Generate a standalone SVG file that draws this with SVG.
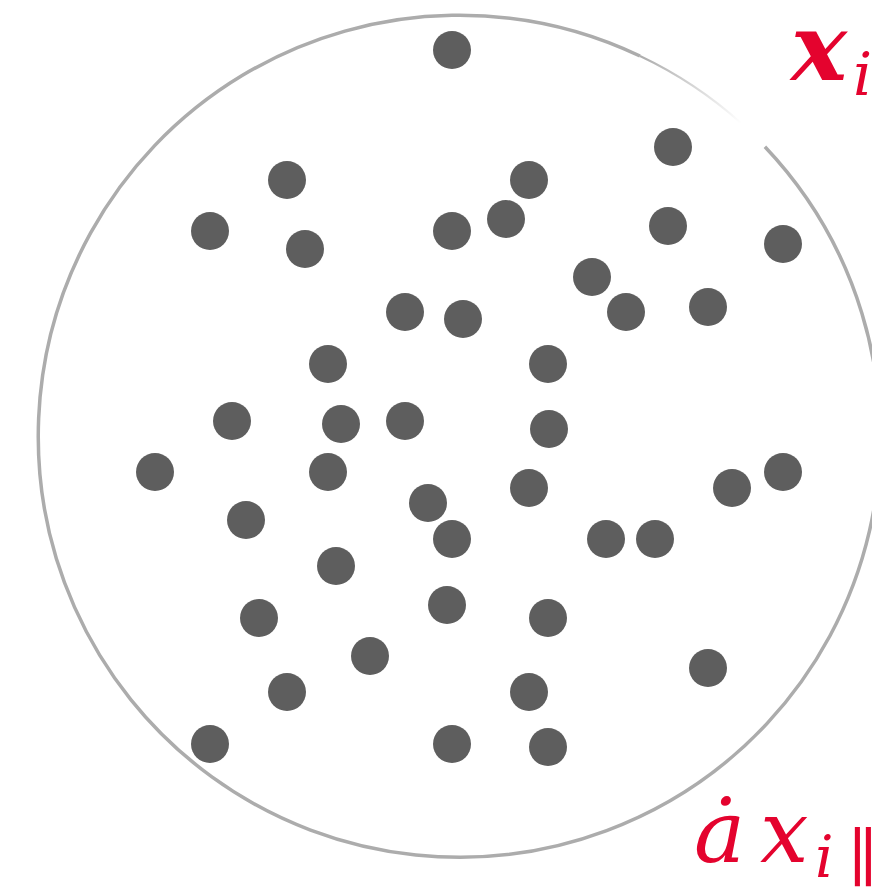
<svg xmlns="http://www.w3.org/2000/svg" width="872" height="887" viewBox="0 0 872 887">
  <defs>
    <style>
      .dot { fill: #5e5e5e; }
      .ring { fill: none; stroke: #acacac; stroke-width: 3.5; }
    </style>
    <linearGradient id="fade" gradientUnits="userSpaceOnUse" x1="640" y1="55" x2="742" y2="123">
      <stop offset="0" stop-color="#acacac"/>
      <stop offset="1" stop-color="#ffffff"/>
    </linearGradient>
  </defs>
  <rect width="872" height="887" fill="#ffffff"/>
  <g id="boundary">
    <path class="ring" d="M 764.9 146.7 A 421 421 0 1 1 640 56"/>
    <path d="M 640 56 A 421 421 0 0 1 741 123" fill="none" stroke="url(#fade)" stroke-width="2"/>
  </g>
  <g id="particles">
    <circle class="dot" cx="452" cy="50" r="19"/>
    <circle class="dot" cx="673" cy="147" r="19"/>
    <circle class="dot" cx="287" cy="180" r="19"/>
    <circle class="dot" cx="529" cy="180" r="19"/>
    <circle class="dot" cx="210" cy="231" r="19"/>
    <circle class="dot" cx="452" cy="231" r="19"/>
    <circle class="dot" cx="506" cy="219" r="19"/>
    <circle class="dot" cx="668" cy="226" r="19"/>
    <circle class="dot" cx="305" cy="249" r="19"/>
    <circle class="dot" cx="783" cy="244" r="19"/>
    <circle class="dot" cx="592" cy="277" r="19"/>
    <circle class="dot" cx="405" cy="312" r="19"/>
    <circle class="dot" cx="463" cy="319" r="19"/>
    <circle class="dot" cx="626" cy="312" r="19"/>
    <circle class="dot" cx="708" cy="307" r="19"/>
    <circle class="dot" cx="328" cy="364" r="19"/>
    <circle class="dot" cx="548" cy="364" r="19"/>
    <circle class="dot" cx="232" cy="421" r="19"/>
    <circle class="dot" cx="341" cy="424" r="19"/>
    <circle class="dot" cx="405" cy="421" r="19"/>
    <circle class="dot" cx="549" cy="429" r="19"/>
    <circle class="dot" cx="155" cy="472" r="19"/>
    <circle class="dot" cx="328" cy="472" r="19"/>
    <circle class="dot" cx="529" cy="488" r="19"/>
    <circle class="dot" cx="732" cy="488" r="19"/>
    <circle class="dot" cx="783" cy="472" r="19"/>
    <circle class="dot" cx="428" cy="503" r="19"/>
    <circle class="dot" cx="246" cy="520" r="19"/>
    <circle class="dot" cx="452" cy="539" r="19"/>
    <circle class="dot" cx="606" cy="539" r="19"/>
    <circle class="dot" cx="655" cy="539" r="19"/>
    <circle class="dot" cx="336" cy="566" r="19"/>
    <circle class="dot" cx="447" cy="605" r="19"/>
    <circle class="dot" cx="259" cy="618" r="19"/>
    <circle class="dot" cx="548" cy="618" r="19"/>
    <circle class="dot" cx="370" cy="656" r="19"/>
    <circle class="dot" cx="708" cy="668" r="19"/>
    <circle class="dot" cx="287" cy="692" r="19"/>
    <circle class="dot" cx="529" cy="692" r="19"/>
    <circle class="dot" cx="210" cy="744" r="19"/>
    <circle class="dot" cx="452" cy="744" r="19"/>
    <circle class="dot" cx="548" cy="747" r="19"/>
  </g>
  <g id="labels" fill="#e4032e" font-family="'DejaVu Serif', 'Liberation Serif', serif" font-style="italic">
    <text x="791" y="80" font-size="94" font-weight="bold">x<tspan x="853" y="95" font-size="60" font-weight="normal">i</tspan></text>
    <text x="694" y="862" font-size="86">ȧ<tspan x="760" y="862">x</tspan><tspan x="815" y="877" font-size="58">i</tspan><tspan x="848" y="880" font-size="64">∥</tspan></text>
  </g>
</svg>
